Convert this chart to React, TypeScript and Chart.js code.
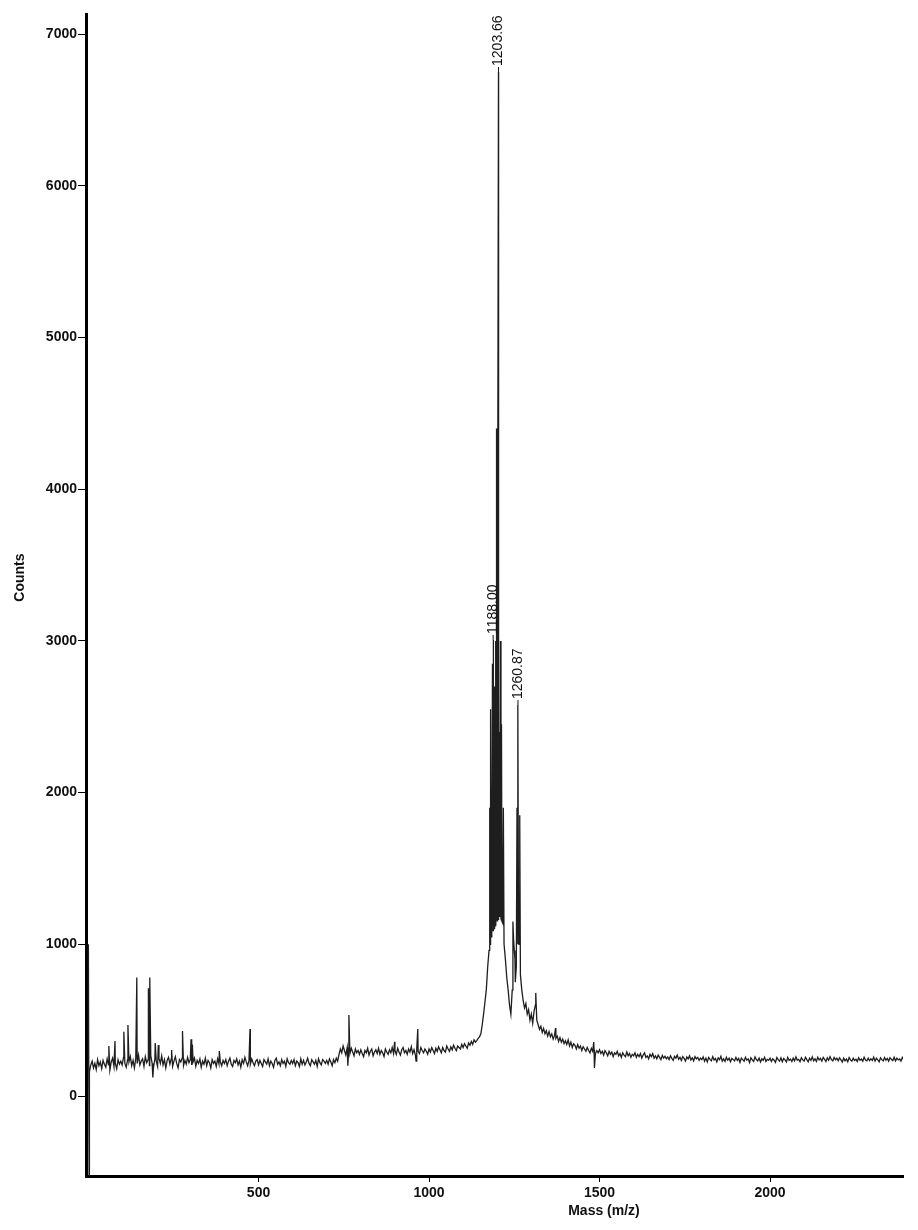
import { useEffect, useRef } from 'react';
import { Chart, registerables } from 'chart.js';

Chart.register(...registerables);

// Baseline trace, sampled every 4 m/z from 0 (one row = 100 m/z)
const baselineStart = 0;
const baselineStep = 4;
const baselineCounts = [
  190, 160, 205, 230, 185, 215, 175, 240, 200, 225, 180, 235, 210, 190, 245, 205, 170, 225, 250, 195, 215, 180, 240, 210, 230,
  205, 255, 215, 190, 240, 225, 260, 200, 235, 185, 250, 215, 270, 205, 230, 245, 195, 260, 220, 240, 200, 265, 215, 190, 245,
  230, 195, 250, 215, 265, 205, 240, 185, 235, 255, 210, 245, 195, 230, 260, 215, 185, 240, 225, 250, 200, 235, 210, 255, 220,
  240, 205, 225, 250, 195, 235, 215, 245, 190, 230, 210, 250, 200, 235, 220, 185, 240, 215, 230, 195, 245, 210, 225, 200, 235,
  215, 240, 200, 230, 250, 210, 195, 235, 220, 245, 205, 230, 190, 240, 215, 255, 225, 200, 235, 210, 245, 220, 200, 230, 240,
  205, 235, 215, 195, 240, 225, 210, 245, 200, 230, 215, 190, 235, 250, 210, 225, 200, 240, 215, 230, 195, 245, 220, 210, 235,
  215, 240, 200, 230, 220, 195, 245, 210, 235, 205, 225, 250, 215, 200, 240, 225, 210, 235, 195, 245, 220, 205, 240, 230, 215,
  235, 210, 245, 225, 200, 240, 220, 250, 230, 275, 310, 285, 330, 300, 270, 320, 295, 280, 315, 290, 265, 310, 285, 300, 275,
  305, 280, 260, 300, 285, 315, 270, 295, 310, 265, 290, 305, 280, 315, 275, 300, 285, 260, 310, 290, 275, 305, 285, 320, 280,
  300, 275, 315, 290, 270, 305, 320, 285, 300, 275, 310, 290, 325, 280, 305, 270, 315, 295, 280, 320, 300, 285, 310, 295, 275,
  310, 290, 320, 300, 280, 315, 295, 325, 305, 285, 320, 300, 290, 330, 310, 295, 325, 305, 335, 315, 300, 330, 320, 310, 340,
  320, 345, 330, 315, 350, 335, 360, 340, 370, 355, 365, 380, 390, 410, 470, 540, 620, 700, 850, 960, 1040, 1070, 1090, 1100, 1120,
  1150, 1160, 1180, 1160, 1140, 1000, 900, 780, 700, 600, 540, 700, 1030, 900, 850, 1000, 1000, 800, 700, 630, 580, 610, 540, 570, 500,
  540, 480, 560, 600, 500, 470, 440, 460, 420, 445, 410, 430, 395, 425, 390, 410, 375, 400, 380, 395, 360, 385, 355, 375, 345,
  365, 340, 370, 330, 355, 320, 345, 335, 310, 340, 315, 330, 300, 325, 310, 295, 320, 300, 285, 315, 295, 305, 280, 300, 285,
  305, 280, 295, 270, 300, 285, 265, 295, 275, 290, 260, 285, 275, 295, 265, 280, 255, 285, 270, 260, 290, 265, 280, 255, 275,
  265, 285, 255, 275, 260, 280, 250, 270, 285, 255, 265, 245, 275, 260, 280, 250, 265, 245, 270, 255, 240, 268, 250, 262, 245,
  258, 240, 265, 248, 235, 262, 250, 270, 242, 255, 235, 260, 248, 230, 258, 245, 265, 238, 252, 232, 260, 245, 255, 235, 250,
  240, 258, 230, 250, 225, 255, 242, 232, 260, 238, 248, 225, 252, 240, 262, 230, 245, 228, 255, 236, 250, 226, 248, 240, 232,
  255, 235, 248, 222, 250, 240, 230, 256, 236, 245, 220, 252, 238, 228, 258, 240, 232, 250, 225, 246, 235, 255, 228, 242, 236,
  250, 228, 245, 236, 222, 254, 240, 230, 252, 226, 248, 238, 225, 255, 235, 244, 228, 250, 232, 258, 236, 242, 226, 252, 238,
  230, 255, 240, 226, 250, 235, 258, 232, 245, 228, 256, 238, 248, 230, 255, 242, 228, 252, 236, 260, 240, 232, 254, 238, 250,
  232, 252, 238, 224, 250, 232, 244, 226, 254, 238, 230, 250, 234, 242, 228, 252, 236, 244, 230, 256, 238, 232, 250, 234, 246,
  234, 256, 230, 249, 238, 226, 252, 240, 232, 254, 236, 248, 230, 252, 242, 234, 256, 232, 250, 238, 244, 230, 254, 240, 246,
];

// Narrow spikes and dips outside the main cluster
const spikeMz = [1, 3, 61, 79, 105, 117, 143, 177, 181, 190, 197, 206, 245, 277, 302, 306, 385, 475, 762, 765, 899, 962, 967, 1313, 1371, 1483, 1485];
const spikeCounts = [1000, -520, 330, 362, 424, 468, 782, 710, 782, 123, 350, 336, 303, 428, 375, 340, 297, 442, 200, 534, 358, 230, 442, 680, 448, 356, 185];

// Main peak cluster
const peakMz = [1178, 1179.5, 1181, 1182.5, 1186, 1188, 1189.5, 1191, 1193.5, 1195, 1196.5, 1198, 1199.5, 1202, 1203.66, 1205.5, 1207, 1209.5, 1211, 1212.5, 1214, 1218, 1246, 1250, 1253, 1258, 1260.87, 1262.5, 1266];
const peakCounts = [1900, 1000, 2550, 1050, 2850, 3006, 1100, 2700, 1150, 3000, 1160, 4400, 1700, 3400, 6750, 2400, 1300, 3000, 1170, 2450, 1150, 1900, 1150, 960, 750, 1900, 2577, 1050, 1850];

// Annotated peaks
const labelMz = [1203.66, 1188.0, 1260.87];
const labelCounts = [6750, 3006, 2577];
const labelText = ['1203.66', '1188.00', '1260.87'];

const xTicks = [500, 1000, 1500, 2000];
const yTicks = [0, 1000, 2000, 3000, 4000, 5000, 6000, 7000];

const FONT = '"Liberation Sans", Arial, Helvetica, sans-serif';

function buildPoints() {
  const pts: { x: number; y: number }[] = [];
  baselineCounts.forEach((c, i) => pts.push({ x: baselineStart + i * baselineStep, y: c }));
  spikeMz.forEach((m, i) => pts.push({ x: m, y: spikeCounts[i] }));
  peakMz.forEach((m, i) => pts.push({ x: m, y: peakCounts[i] }));
  pts.sort((a, b) => a.x - b.x);
  return pts;
}

const annotatePlugin = {
  id: 'annotate',
  afterDraw(chart: any) {
    const { ctx, chartArea } = chart;
    const xs = chart.scales.x;
    const ys = chart.scales.y;
    ctx.save();
    ctx.fillStyle = '#111';
    ctx.strokeStyle = '#111';
    ctx.font = `bold 14px ${FONT}`;
    ctx.textAlign = 'center';
    ctx.textBaseline = 'middle';
    ctx.fillText('Mass (m/z)', chartArea.left + chartArea.width * 0.634, chartArea.bottom + 35);
    ctx.save();
    ctx.translate(20, chartArea.top + (chartArea.bottom - chartArea.top) * 0.485);
    ctx.rotate(-Math.PI / 2);
    ctx.fillText('Counts', 0, 0);
    ctx.restore();
    ctx.font = `14px ${FONT}`;
    ctx.lineWidth = 1;
    labelMz.forEach((m, i) => {
      const px = xs.getPixelForValue(m);
      const py = ys.getPixelForValue(labelCounts[i]);
      ctx.beginPath();
      ctx.moveTo(px, py);
      ctx.lineTo(px, py - 5);
      ctx.stroke();
      ctx.save();
      ctx.translate(px, py - 6);
      ctx.rotate(-Math.PI / 2);
      ctx.textAlign = 'left';
      ctx.textBaseline = 'middle';
      ctx.fillText(labelText[i], 0, 0);
      ctx.restore();
    });
    ctx.restore();
  },
};

export default function App() {
  const ref = useRef<HTMLCanvasElement>(null);
  useEffect(() => {
    if (!ref.current) return;
    const chart = new Chart(ref.current, {
      type: 'line',
      data: {
        datasets: [
          {
            data: buildPoints(),
            borderColor: '#1e1e1e',
            borderWidth: 1.3,
            pointRadius: 0,
            tension: 0,
            fill: false,
          },
        ],
      },
      options: {
        animation: false,
        responsive: false,
        devicePixelRatio: 1,
        layout: { padding: { top: 14, right: 15, left: 0, bottom: 0 } },
        plugins: { legend: { display: false }, tooltip: { enabled: false } },
        scales: {
          x: {
            type: 'linear',
            min: -6,
            max: 2390,
            afterBuildTicks: (s: any) => {
              s.ticks = xTicks.map((v) => ({ value: v }));
            },
            afterFit: (s: any) => {
              s.height = 54;
            },
            border: { display: true, color: '#000', width: 3 },
            grid: { drawOnChartArea: false, drawTicks: true, tickLength: 6, color: '#000', lineWidth: 1 },
            ticks: {
              color: '#111',
              font: { family: FONT, size: 14, weight: 'bold' },
              padding: 3,
              maxRotation: 0,
              callback: (v: any) => String(v),
            },
          },
          y: {
            type: 'linear',
            min: -527,
            max: 7132,
            afterBuildTicks: (s: any) => {
              s.ticks = yTicks.map((v) => ({ value: v }));
            },
            afterFit: (s: any) => {
              s.width = 86;
            },
            border: { display: true, color: '#000', width: 3 },
            grid: { drawOnChartArea: false, drawTicks: true, tickLength: 8, color: '#000', lineWidth: 1 },
            ticks: {
              color: '#111',
              font: { family: FONT, size: 14, weight: 'bold' },
              padding: 1,
              callback: (v: any) => String(v),
            },
          },
        },
      } as any,
      plugins: [annotatePlugin],
    });
    return () => chart.destroy();
  }, []);
  return (
    <div style={{ position: 'absolute', left: 0, top: 0, width: 918, height: 1230, background: '#fff' }}>
      <canvas ref={ref} width={918} height={1230} />
    </div>
  );
}
